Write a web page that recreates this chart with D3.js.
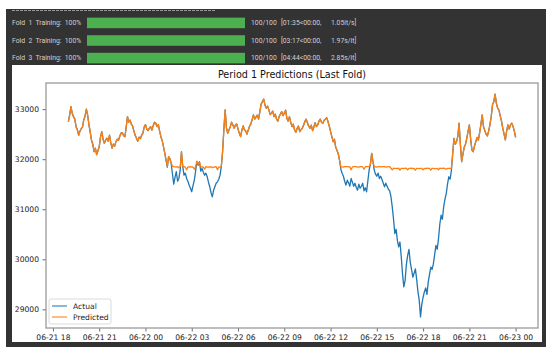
<!DOCTYPE html>
<html>
<head>
<meta charset="utf-8">
<script src="https://cdn.jsdelivr.net/npm/d3@7"></script>
<style>
  html, body { margin: 0; padding: 0; background: #ffffff; }
  svg { display: block; }
</style>
</head>
<body>
<svg id="chart" width="558" height="348"></svg>
<script>
// Training progress rows shown above the plot
const folds = ["1", "2", "3"];
const foldTimes = ["[01:35<00:00,", "[03:17<00:00,", "[04:44<00:00,"];
const foldRates = ["1.05it/s]", "1.97s/it]", "2.85s/it]"];

// Series: 5-minute samples from 2023-06-21 19:00 to 2023-06-23 00:00
const seriesStart = "2023-06-21T19:00:00Z";
const stepMinutes = 5;
const actual = [
  32750, 32880, 33050, 32920, 32850, 32800, 32650, 32590, 32480, 32560,
  32610, 32640, 32790, 32860, 33000, 32880, 32690, 32540, 32380, 32300,
  32150, 32220, 32090, 32170, 32250, 32440, 32550, 32400, 32320, 32380,
  32420, 32360, 32480, 32330, 32220, 32300, 32260, 32350, 32400, 32380,
  32460, 32520, 32530, 32470, 32450, 32640, 32850, 32740, 32780, 32700,
  32660, 32560, 32480, 32420, 32360, 32440, 32410, 32480, 32520, 32640,
  32690, 32600, 32570, 32620, 32650, 32580, 32670, 32740, 32720, 32650,
  32690, 32560, 32450, 32370, 32250, 32120, 31980, 31840, 32050, 32010,
  31920, 31700, 31500, 31640, 31750, 31560, 31615, 31780, 32150, 31850,
  31680, 31720, 31615, 31560, 31480, 31420, 31350, 31470, 31580, 31760,
  31950, 31880, 31950, 31760, 31816, 31740, 31680, 31720, 31650, 31540,
  31450, 31330, 31247, 31380, 31450, 31520, 31548, 31600, 31680, 31850,
  32150, 32600, 32986, 32620, 32518, 32590, 32650, 32740, 32685, 32620,
  32685, 32700, 32600, 32520, 32451, 32580, 32665, 32590, 32565, 32500,
  32585, 32660, 32705, 32790, 32886, 32800, 32840, 32880, 32800, 32950,
  33100, 33150, 33200, 33080, 33020, 33060, 32986, 32890, 32920, 32960,
  32852, 32900, 32800, 32760, 32852, 32900, 32950, 32870, 32920, 32980,
  32820, 32760, 32850, 32740, 32650, 32700, 32585, 32540, 32618, 32660,
  32550, 32590, 32618, 32680, 32750, 32800, 32730, 32660, 32618, 32680,
  32570, 32640, 32730, 32650, 32685, 32760, 32800, 32740, 32718, 32780,
  32800, 32830, 32752, 32660, 32550, 32450, 32351, 32400, 32237, 32180,
  32104, 31980, 31800, 31720, 31660, 31560, 31481, 31580, 31530, 31460,
  31615, 31540, 31460, 31520, 31435, 31380, 31500, 31420, 31460, 31520,
  31368, 31430, 31348, 31560, 31782, 31900, 32117, 31950, 31782, 31700,
  31660, 31720, 31615, 31660, 31595, 31520, 31448, 31520, 31460, 31400,
  31368, 31250, 31047, 30800, 30512, 30600, 30378, 30250, 30345, 30050,
  29710, 29450, 29576, 29900, 30078, 30200, 29944, 29800, 29643, 29720,
  29810, 29600, 29350, 29180, 28850, 29100, 29242, 29350, 29429, 29300,
  29543, 29700, 29844, 29800, 29910, 30100, 30278, 30200, 30412, 30700,
  30880, 30800, 31047, 31200, 31314, 31500, 31649, 31600, 31770, 32100,
  32418, 32300, 32351, 32450, 32718, 32300, 31950, 32100, 32237, 32300,
  32418, 32560, 32685, 32400, 32184, 32150, 32264, 32350, 32437, 32380,
  32531, 32700, 32886, 32650, 32571, 32500, 32464, 32560, 32685, 32850,
  33086, 33150, 33300, 33120, 33020, 32980, 32866, 32760, 32618, 32500,
  32384, 32560, 32685, 32600, 32685, 32720, 32652, 32560, 32437
];
const predicted = [
  32750, 32880, 33050, 32920, 32850, 32800, 32650, 32590, 32480, 32560,
  32610, 32640, 32790, 32860, 33000, 32880, 32690, 32540, 32380, 32300,
  32150, 32220, 32090, 32170, 32250, 32440, 32550, 32400, 32320, 32380,
  32420, 32360, 32480, 32330, 32220, 32300, 32260, 32350, 32400, 32380,
  32460, 32520, 32530, 32470, 32450, 32640, 32850, 32740, 32780, 32700,
  32660, 32560, 32480, 32420, 32360, 32440, 32410, 32480, 32520, 32640,
  32690, 32600, 32570, 32620, 32650, 32580, 32670, 32740, 32720, 32650,
  32690, 32560, 32450, 32370, 32250, 32120, 31980, 31860, 32050, 32010,
  31920, 31860, 31850, 31845, 31840, 31850, 31830, 31850, 32150, 31860,
  31850, 31840, 31790, 31845, 31840, 31850, 31840, 31845, 31800, 31850,
  31960, 31900, 31940, 31850, 31840, 31845, 31800, 31850, 31840, 31845,
  31840, 31850, 31830, 31845, 31840, 31850, 31790, 31845, 31840, 31860,
  32150, 32600, 32986, 32620, 32518, 32590, 32650, 32740, 32685, 32620,
  32685, 32700, 32600, 32520, 32451, 32580, 32665, 32590, 32565, 32500,
  32585, 32660, 32705, 32790, 32886, 32800, 32840, 32880, 32800, 32950,
  33100, 33150, 33200, 33080, 33020, 33060, 32986, 32890, 32920, 32960,
  32852, 32900, 32800, 32760, 32852, 32900, 32950, 32870, 32920, 32980,
  32820, 32760, 32850, 32740, 32650, 32700, 32585, 32540, 32618, 32660,
  32550, 32590, 32618, 32680, 32750, 32800, 32730, 32660, 32618, 32680,
  32570, 32640, 32730, 32650, 32685, 32760, 32800, 32740, 32718, 32780,
  32800, 32830, 32752, 32660, 32550, 32450, 32351, 32400, 32237, 32180,
  32104, 31980, 31850, 31845, 31840, 31850, 31850, 31850, 31845, 31850,
  31790, 31845, 31850, 31850, 31850, 31840, 31840, 31850, 31850, 31845,
  31800, 31850, 31850, 31850, 31850, 31900, 32117, 31950, 31850, 31845,
  31840, 31850, 31850, 31845, 31850, 31850, 31850, 31840, 31845, 31850,
  31850, 31820, 31790, 31815, 31815, 31815, 31810, 31820, 31780, 31815,
  31815, 31810, 31820, 31815, 31790, 31815, 31815, 31820, 31810, 31815,
  31780, 31815, 31815, 31810, 31815, 31815, 31790, 31815, 31810, 31820,
  31815, 31815, 31780, 31815, 31815, 31810, 31810, 31815, 31790, 31820,
  31815, 31815, 31820, 31810, 31800, 31815, 31815, 31815, 31820, 32100,
  32418, 32300, 32351, 32450, 32718, 32300, 31950, 32100, 32237, 32300,
  32418, 32560, 32685, 32400, 32184, 32150, 32264, 32350, 32437, 32380,
  32531, 32700, 32886, 32650, 32571, 32500, 32464, 32560, 32685, 32850,
  33086, 33150, 33300, 33120, 33020, 32980, 32866, 32760, 32618, 32500,
  32384, 32560, 32685, 32600, 32685, 32720, 32652, 32560, 32437
];
const yTickValues = [29000, 30000, 31000, 32000, 33000];
const chartTitle = "Period 1 Predictions (Last Fold)";
const legendLabels = ["Actual", "Predicted"];
const lineColors = ["#1f77b4", "#ff7f0e"];

const svg = d3.select("#chart");

// Notebook output panel
svg.append("rect").attr("x", 6).attr("y", 9).attr("width", 540).attr("height", 338)
  .attr("fill", "#333333");
svg.append("line").attr("x1", 12).attr("x2", 215).attr("y1", 10.5).attr("y2", 10.5)
  .attr("stroke", "#9a9a9a").attr("stroke-width", 1).attr("stroke-dasharray", "3,1");

// Progress rows
const rowY = d3.scaleBand().domain(folds).range([15, 66]).paddingInner(0.4).paddingOuter(0.15);
const rows = svg.selectAll("g.row").data(folds).join("g").attr("class", "row")
  .attr("transform", d => `translate(0,${rowY(d)})`);
const bh = rowY.bandwidth();
const rowFont = "Roboto, 'DejaVu Sans', sans-serif";
const rowSize = 6.8;
function rowText(sel, xPos, fn) {
  return sel.append("text").attr("x", xPos).attr("y", bh / 2).attr("dy", "0.35em")
    .attr("fill", "#d0d0d0").attr("font-family", rowFont).attr("font-size", rowSize)
    .attr("xml:space", "preserve").text(fn);
}
const labels = rowText(rows, 12, d => `Fold  ${d}  Training:  100%`);
// keep the description inside the gap before the bar
labels.each(function () {
  const w = this.getComputedTextLength();
  if (w > 73) d3.select(this).attr("font-size", rowSize * 73 / w);
});
rows.append("rect").attr("x", 87).attr("y", 0).attr("width", 158).attr("height", bh)
  .attr("fill", "#4caf50");
rowText(rows, 251, () => "100/100");
rowText(rows, 281, (d, i) => foldTimes[i]);
rowText(rows, 331, (d, i) => foldRates[i]);

// Figure card
svg.append("rect").attr("x", 12).attr("y", 65).attr("width", 530).attr("height", 277)
  .attr("fill", "#ffffff");

// Plot area
const margin = { left: 46, right: 538, top: 83, bottom: 328 };
const t0 = new Date(seriesStart);
const points = actual.map((v, i) => ({
  t: new Date(t0.getTime() + i * stepMinutes * 60000),
  a: v,
  p: predicted[i]
}));

const tExt = d3.extent(points, d => d.t);
const tPad = (tExt[1] - tExt[0]) * 0.05;
const x = d3.scaleUtc()
  .domain([new Date(+tExt[0] - tPad), new Date(+tExt[1] + tPad)])
  .range([margin.left, margin.right]);

const yMin = d3.min(points, d => Math.min(d.a, d.p));
const yMax = d3.max(points, d => Math.max(d.a, d.p));
const yPad = (yMax - yMin) * 0.05;
const y = d3.scaleLinear().domain([yMin - yPad, yMax + yPad])
  .range([margin.bottom, margin.top]);

const font = "'DejaVu Sans', sans-serif";

// Title
svg.append("text").attr("x", (margin.left + margin.right) / 2).attr("y", 78)
  .attr("text-anchor", "middle").attr("font-family", font).attr("font-size", 9.6)
  .attr("fill", "#111").text(chartTitle);

// Lines
const lineA = d3.line().x(d => x(d.t)).y(d => y(d.a));
const lineP = d3.line().x(d => x(d.t)).y(d => y(d.p));
svg.append("path").datum(points).attr("d", lineA).attr("fill", "none")
  .attr("stroke", lineColors[0]).attr("stroke-width", 1.3).attr("stroke-linejoin", "round");
svg.append("path").datum(points).attr("d", lineP).attr("fill", "none")
  .attr("stroke", lineColors[1]).attr("stroke-width", 1.3).attr("stroke-linejoin", "round");

// Axes
const xAxis = d3.axisBottom(x).ticks(d3.utcHour.every(3))
  .tickFormat(d3.utcFormat("%m-%d %H")).tickSizeInner(3.5).tickSizeOuter(0).tickPadding(3.5);
const yAxis = d3.axisLeft(y).tickValues(yTickValues).tickFormat(d3.format("d"))
  .tickSizeInner(3.5).tickSizeOuter(0).tickPadding(3.5);

const gx = svg.append("g").attr("transform", `translate(0,${margin.bottom})`).call(xAxis);
const gy = svg.append("g").attr("transform", `translate(${margin.left},0)`).call(yAxis);
[gx, gy].forEach(g => {
  g.select(".domain").remove();
  g.selectAll(".tick line").attr("stroke", "#444").attr("stroke-width", 0.8);
  g.selectAll(".tick text").attr("font-family", font).attr("font-size", 7.6).attr("fill", "#222");
});

// Frame
svg.append("rect").attr("x", margin.left).attr("y", margin.top)
  .attr("width", margin.right - margin.left).attr("height", margin.bottom - margin.top)
  .attr("fill", "none").attr("stroke", "#9a9a9a").attr("stroke-width", 1.3);

// Legend
const lg = svg.append("g").attr("transform", `translate(${margin.left + 3},${margin.bottom - 29})`);
lg.append("rect").attr("x", 0).attr("y", 0).attr("width", 62).attr("height", 25)
  .attr("rx", 2).attr("fill", "#ffffff").attr("fill-opacity", 0.8)
  .attr("stroke", "#d0d0d0").attr("stroke-width", 0.8);
const items = lg.selectAll("g.item").data(legendLabels).join("g").attr("class", "item")
  .attr("transform", (d, i) => `translate(0,${7 + i * 11})`);
items.append("line").attr("x1", 3).attr("x2", 18).attr("y1", 0).attr("y2", 0)
  .attr("stroke", (d, i) => lineColors[i]).attr("stroke-width", 1.4).attr("stroke-opacity", 0.75);
items.append("text").attr("x", 24).attr("y", 0).attr("dy", "0.35em")
  .attr("font-family", font).attr("font-size", 7.6).attr("fill", "#222").text(d => d);
</script>
</body>
</html>
